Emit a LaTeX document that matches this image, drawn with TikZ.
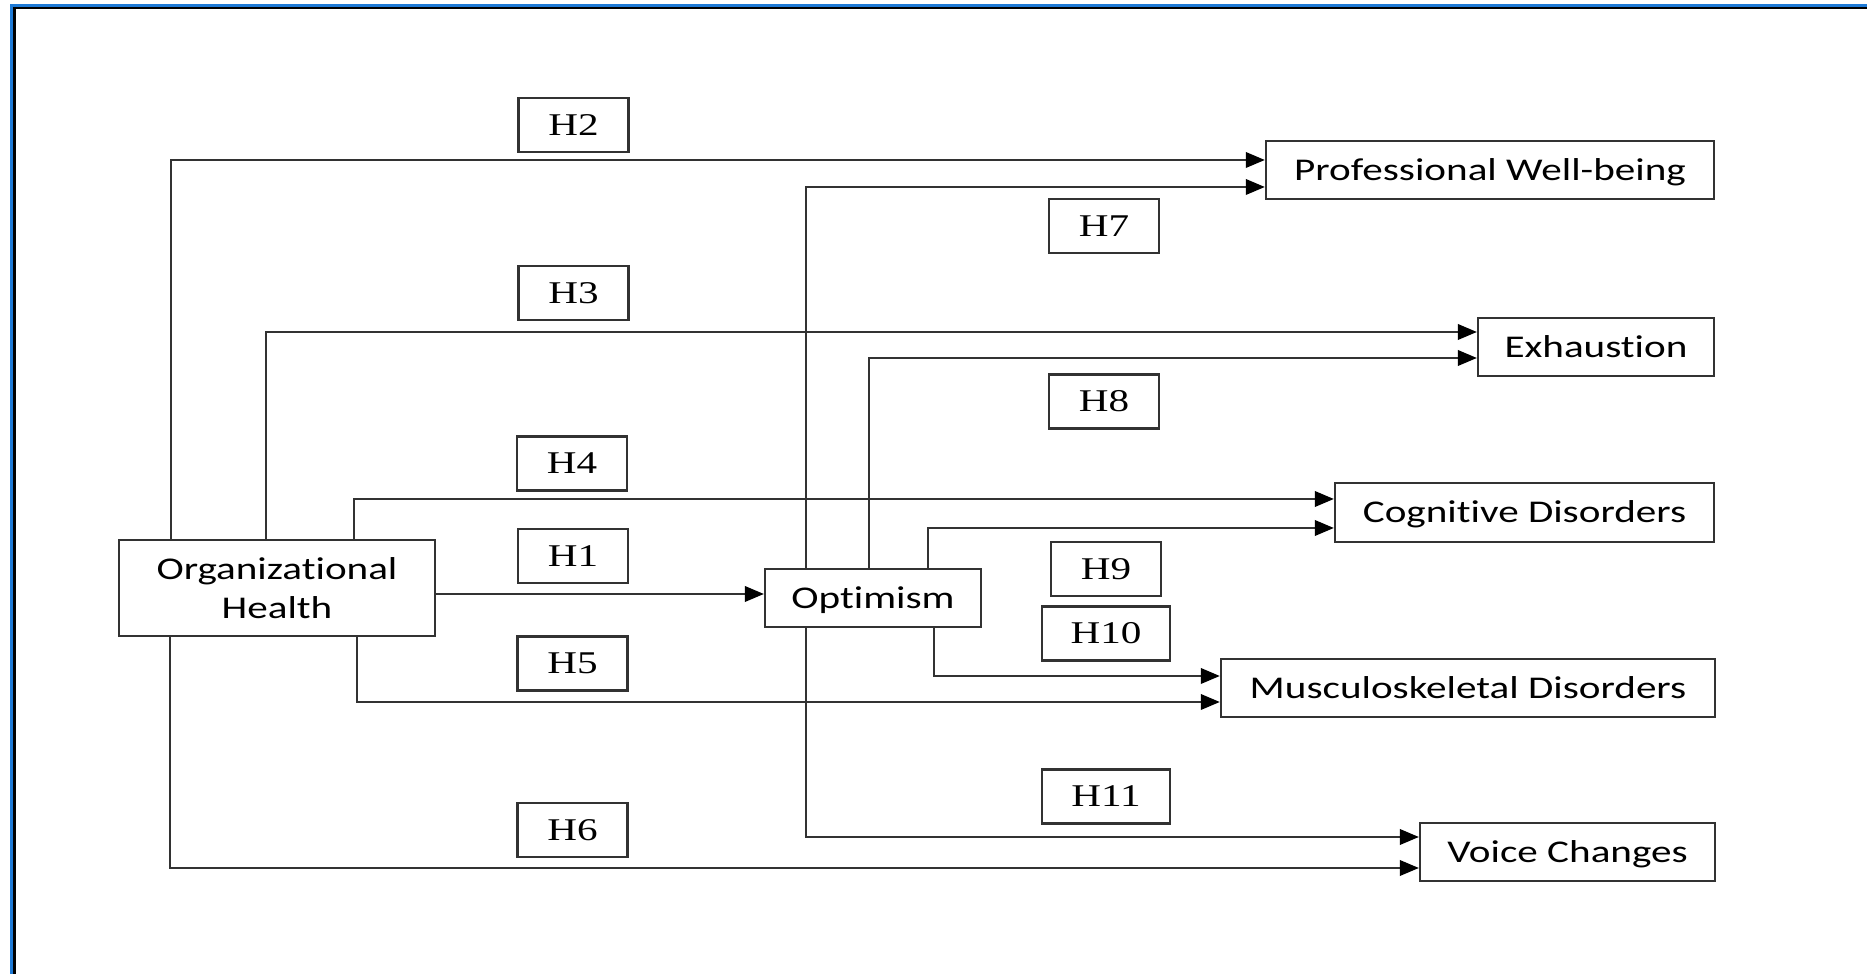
\documentclass[tikz,border=0pt]{standalone}
\usepackage{fontspec}
\usetikzlibrary{arrows.meta}
\newfontfamily\boxfont[FakeStretch=1.3,Ligatures=NoCommon]{Carlito}
\newfontfamily\hypfont[FakeStretch=1.3]{Liberation Serif}
\definecolor{frameblue}{RGB}{30,122,214}
\definecolor{linegray}{RGB}{50,50,50}
\tikzset{
  varbox/.style={draw=linegray, line width=0.6pt, rectangle, inner sep=0pt,
    font=\boxfont\fontsize{9}{11.1}\selectfont, text height=5.7pt, text depth=0pt},
  hypbox/.style={draw=linegray, line width=0.6pt, rectangle, inner sep=0pt,
    minimum width=1.1cm, minimum height=0.54cm,
    font=\hypfont\fontsize{9}{11}\selectfont, text height=5.9pt, text depth=0pt},
  arr/.style={draw=linegray, line width=0.6pt, -{Triangle[length=5.4pt,width=4.4pt,color=black]}}
}
\begin{document}
\begin{tikzpicture}[x=0.01cm, y=-0.01cm]
\useasboundingbox (0,0) rectangle (1867,974);
% frame
\fill[frameblue] (10,4) rectangle (1867,7);
\fill[frameblue] (10,4) rectangle (13,974);
\fill[black] (13,7) rectangle (1867,9.5);
\fill[black] (13,7) rectangle (16,974);

% variable boxes
\node[varbox, minimum width=3.16cm, minimum height=0.96cm, align=center, text height=, text depth=] (org) at (277,588)
  {Organizational\\Health};
\node[varbox, minimum width=2.16cm, minimum height=0.58cm] (opt) at (873,598) {Optimism};
\node[varbox, minimum width=4.48cm, minimum height=0.58cm] (pwb) at (1490,170) {Professional Well-being};
\node[varbox, minimum width=2.36cm, minimum height=0.58cm] (exh) at (1596,347) {Exhaustion};
\node[varbox, minimum width=3.79cm, minimum height=0.59cm] (cog) at (1524.5,512.5) {Cognitive Disorders};
\node[varbox, minimum width=4.94cm, minimum height=0.58cm] (msk) at (1468,688) {Musculoskeletal Disorders};
\node[varbox, minimum width=2.95cm, minimum height=0.58cm] (voc) at (1567.5,852) {Voice Changes};

% hypothesis labels
\node[hypbox] (h2) at (573.5,125) {H2};
\node[hypbox] (h3) at (573.5,293) {H3};
\node[hypbox] (h4) at (572,463.5) {H4};
\node[hypbox] (h1) at (573,556) {H1};
\node[hypbox] (h5) at (572.5,663.5) {H5};
\node[hypbox] (h6) at (572.5,830) {H6};
\node[hypbox] (h7) at (1104,226) {H7};
\node[hypbox] (h8) at (1104,401.5) {H8};
\node[hypbox] (h9) at (1106,569) {H9};
\node[hypbox, minimum width=1.28cm] (h10) at (1106,633.5) {H10};
\node[hypbox, minimum width=1.28cm] (h11) at (1106,796.5) {H11};

% connectors from Organizational Health
\draw[arr] (org.north -| 171,0) |- (pwb.west |- 0,160);
\draw[arr] (org.north -| 266,0) |- (exh.west |- 0,332);
\draw[arr] (org.north -| 354,0) |- (cog.west |- 0,499);
\draw[arr] (org.east |- 0,594) -- (opt.west |- 0,594);
\draw[arr] (org.south -| 357,0) |- (msk.west |- 0,702);
\draw[arr] (org.south -| 170,0) |- (voc.west |- 0,868);

% connectors from Optimism
\draw[arr] (opt.north -| 806,0) |- (pwb.west |- 0,187);
\draw[arr] (opt.north -| 869,0) |- (exh.west |- 0,358);
\draw[arr] (opt.north -| 928,0) |- (cog.west |- 0,528);
\draw[arr] (opt.south -| 934,0) |- (msk.west |- 0,676);
\draw[arr] (opt.south -| 806,0) |- (voc.west |- 0,837);
\end{tikzpicture}
\end{document}
